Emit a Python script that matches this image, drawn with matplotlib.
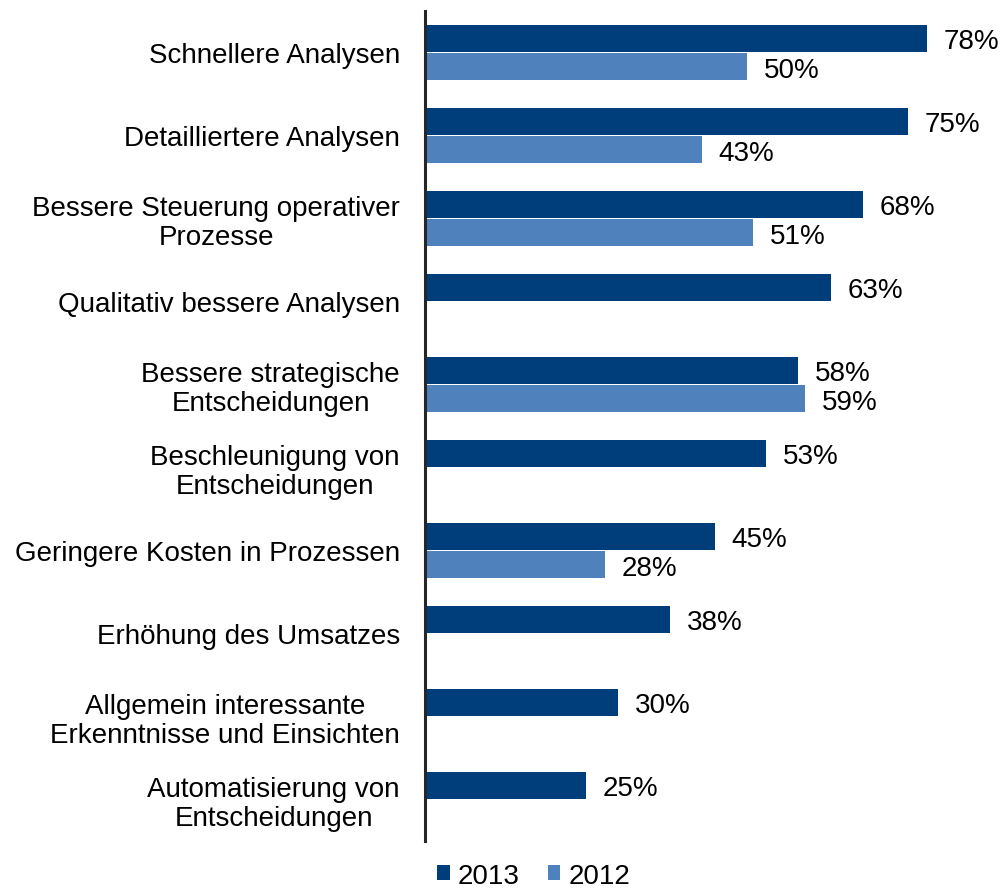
import matplotlib
matplotlib.use("Agg")
import matplotlib.pyplot as plt
import numpy as np

plt.rcParams["font.family"] = ["Liberation Sans", "DejaVu Sans"]

categories = [
    "Schnellere Analysen",
    "Detailliertere Analysen",
    "Bessere Steuerung operativer\nProzesse",
    "Qualitativ bessere Analysen",
    "Bessere strategische\nEntscheidungen",
    "Beschleunigung von\nEntscheidungen",
    "Geringere Kosten in Prozessen",
    "Erhöhung des Umsatzes",
    "Allgemein interessante\nErkenntnisse und Einsichten",
    "Automatisierung von\nEntscheidungen",
]
values_2013 = [78, 75, 68, 63, 58, 53, 45, 38, 30, 25]
values_2012 = [50, 43, 51, None, 59, None, 28, None, None, None]

c2013 = "#003D7B"
c2012 = "#4F81BD"

fig = plt.figure(figsize=(10.03, 8.95), dpi=100)
ax = fig.add_axes([425 / 1003, 1 - 842 / 895, 573 / 1003, 830 / 895])

y = np.arange(len(categories))
h = 0.33
off = 0.17

ax.barh(y - off, values_2013, height=h, color=c2013, label="2013")
v12 = [v if v is not None else 0 for v in values_2012]
ax.barh(y + off, v12, height=h, color=c2012, label="2012")

fs = 20
for yi, v in zip(y, values_2013):
    ax.text(v + 2.6, yi - off, f"{v}%", va="center_baseline", ha="left", fontsize=fs)
for yi, v in zip(y, values_2012):
    if v is not None:
        ax.text(v + 2.6, yi + off, f"{v}%", va="center_baseline", ha="left", fontsize=fs)

ax.set_ylim(len(categories) - 0.5, -0.5)
ax.set_xlim(0, 89)
ax.set_yticks(y)
ax.set_yticklabels(categories, fontsize=fs, ha="right", multialignment="center",
                   linespacing=1.15)
ax.tick_params(axis="y", length=0, pad=18)
ax.set_xticks([])
for s in ["top", "right", "bottom"]:
    ax.spines[s].set_visible(False)
ax.spines["left"].set_color("#262626")
ax.spines["left"].set_linewidth(2.2)

fig.legend(loc="lower center", bbox_to_anchor=(0.532, -0.022), ncol=2, frameon=False,
           fontsize=fs, handlelength=0.45, handleheight=0.45, handletextpad=0.3,
           columnspacing=1.0)

fig.savefig("out.png", dpi=100)
